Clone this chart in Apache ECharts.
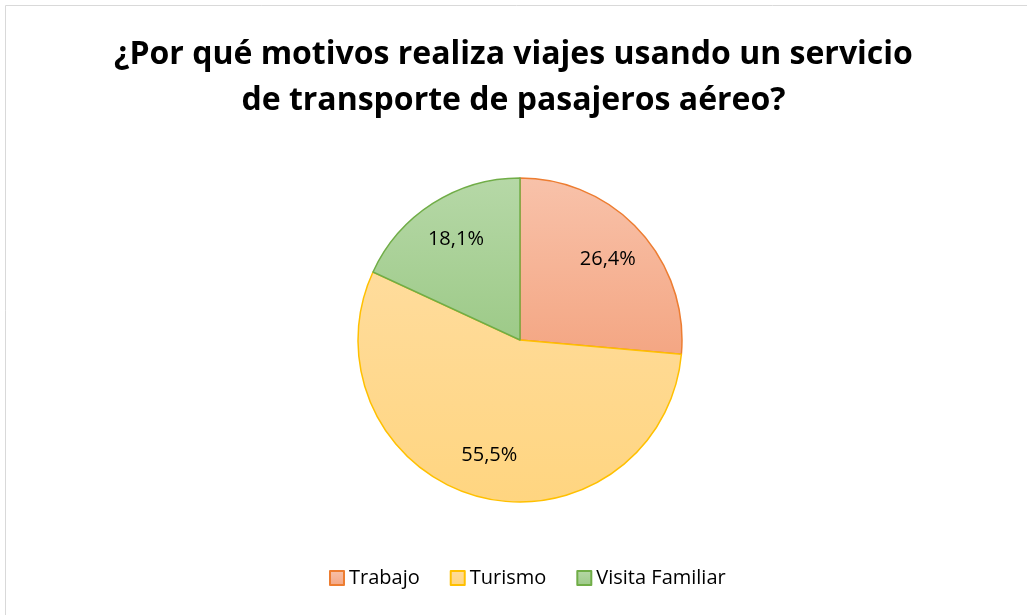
<!DOCTYPE html>
<html>
<head>
<meta charset="utf-8">
<script src="https://cdn.jsdelivr.net/npm/echarts@6/dist/echarts.min.js"></script>
<style>
  html, body { margin: 0; padding: 0; background: #fff; }
  #chart { width: 1027px; height: 615px; }
</style>
</head>
<body>
<div id="chart"></div>
<script>
// datos
const categories = ['Trabajo', 'Turismo', 'Visita Familiar'];
const values = [26.4, 55.5, 18.1];

const fills = [
    ['#f8c2aa', '#f4a683'],
    ['#ffdc9c', '#ffd580'],
    ['#b6d8a7', '#9dca88']
];
const borders = ['#ed7d31', '#ffc000', '#70ad47'];

const fontFamily = '"Open Sans", Lato, sans-serif';

function grad(c) {
    return new echarts.graphic.LinearGradient(0, 0, 0, 1, [
        { offset: 0, color: c[0] },
        { offset: 1, color: c[1] }
    ]);
}

const pieData = categories.map(function(name, i) {
    return {
        name: name,
        value: values[i],
        itemStyle: { color: grad(fills[i]), borderColor: borders[i], borderWidth: 1.5 }
    };
});

// serie invisible sólo para colocar las etiquetas más hacia el borde
const labelData = categories.map(function(name, i) {
    return { name: name, value: values[i] };
});

const chart = echarts.init(document.getElementById('chart'));
chart.setOption({
    animation: false,
    graphic: [{
        type: 'rect',
        shape: { x: 5.5, y: 5.5, width: 1030, height: 620 },
        style: { fill: 'none', stroke: '#d9d9d9', lineWidth: 1 },
        silent: true
    }],
    title: {
        text: '¿Por qué motivos realiza viajes usando un servicio\nde transporte de pasajeros aéreo?',
        left: 'center',
        top: 27,
        textStyle: {
            fontFamily: fontFamily,
            fontWeight: 'bold',
            fontSize: 32,
            lineHeight: 46,
            color: '#000'
        }
    },
    legend: {
        bottom: 22,
        left: 324,
        itemWidth: 14,
        itemHeight: 14,
        itemGap: 30,
        itemTextGap: 5,
        icon: 'rect',
        data: categories,
        textStyle: { fontFamily: fontFamily, fontSize: 20, color: '#000' }
    },
    series: [
        {
            type: 'pie',
            center: [520, 340],
            radius: 162,
            startAngle: 90,
            clockwise: true,
            label: { show: false },
            labelLine: { show: false },
            emphasis: { disabled: true },
            data: pieData
        },
        {
            type: 'pie',
            center: [520, 340],
            radius: [70, 162],
            startAngle: 90,
            clockwise: true,
            silent: true,
            legendHoverLink: false,
            itemStyle: { color: 'rgba(0,0,0,0)' },
            label: {
                show: true,
                position: 'inside',
                fontFamily: fontFamily,
                fontSize: 20,
                color: '#000',
                formatter: function(p) { return p.value.toFixed(1).replace('.', ',') + '%'; }
            },
            labelLine: { show: false },
            data: labelData
        }
    ]
});
</script>
</body>
</html>
